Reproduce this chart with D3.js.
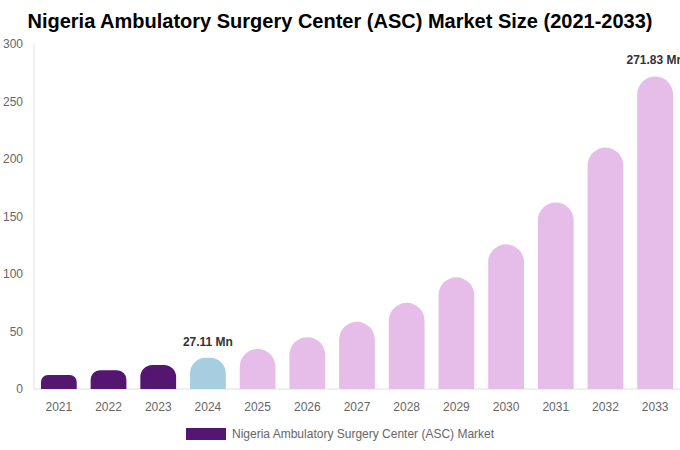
<!DOCTYPE html>
<html>
<head>
<meta charset="utf-8">
<script src="https://cdn.jsdelivr.net/npm/d3@7"></script>
<style>
  body { margin: 0; background: #fff; }
  text { font-family: "Liberation Sans", Arial, sans-serif; }
</style>
</head>
<body>
<svg id="chart"></svg>
<script>
// chart data
const years = ["2021", "2022", "2023", "2024", "2025", "2026", "2027", "2028", "2029", "2030", "2031", "2032", "2033"];
const values = [12.2, 16.2, 20.8, 27.11, 34.8, 45.1, 58.4, 74.9, 97.1, 125.8, 162.2, 209.9, 271.83];
const phases = ["hist", "hist", "hist", "base", "fc", "fc", "fc", "fc", "fc", "fc", "fc", "fc", "fc"];
const labelled = { "2024": "27.11 Mn", "2033": "271.83 Mn" };
const yTicks = [0, 50, 100, 150, 200, 250, 300];
const seriesName = "Nigeria Ambulatory Surgery Center (ASC) Market";

const width = 680, height = 450;
const margin = { top: 44, right: 0, bottom: 61, left: 34 };

let colors = { hist: "#541670", base: "#a6cde0", fc: "#e6bde8" };

let svg = d3.select("#chart")
    .attr("width", width)
    .attr("height", height);

let x = d3.scaleBand()
    .domain(years)
    .range([margin.left, width - margin.right])
    .paddingInner(0.28)
    .paddingOuter(0.14);

let y = d3.scaleLinear()
    .domain([0, 300])
    .range([height - margin.bottom, margin.top]);

// title
svg.append("text")
    .attr("x", width / 2)
    .attr("y", 28)
    .attr("text-anchor", "middle")
    .attr("font-size", "20px")
    .attr("font-weight", "bold")
    .attr("fill", "#000")
    .text("Nigeria Ambulatory Surgery Center (ASC) Market Size (2021-2033)");

// left axis line and tick labels
svg.append("line")
    .attr("x1", margin.left).attr("x2", margin.left)
    .attr("y1", y(300)).attr("y2", y(0))
    .attr("stroke", "#e0e0e0");

svg.selectAll(".ytick")
  .data(yTicks)
  .enter()
  .append("text")
    .attr("x", 23)
    .attr("y", d => y(d) + 4)
    .attr("text-anchor", "end")
    .attr("font-size", "12px")
    .attr("fill", "#666")
    .text(d => d);

// baseline
svg.append("line")
    .attr("x1", margin.left).attr("x2", width)
    .attr("y1", y(0)).attr("y2", y(0))
    .attr("stroke", "#e0e0e0");

// bars with rounded tops (radius shrinks on short bars)
function barPath(d, i) {
  let x0 = x(years[i]), w = x.bandwidth();
  let top = y(d), bottom = y(0);
  let h = bottom - top;
  let r = Math.min(w / 2, h / 2);
  return `M${x0},${bottom} V${top + r} A${r},${r} 0 0 1 ${x0 + r},${top}` +
         ` H${x0 + w - r} A${r},${r} 0 0 1 ${x0 + w},${top + r} V${bottom} Z`;
}

svg.selectAll(".bar")
  .data(values)
  .enter()
  .append("path")
    .classed("bar", true)
    .attr("d", barPath)
    .attr("fill", (d, i) => colors[phases[i]]);

// value labels
svg.selectAll(".vlabel")
  .data(years.filter(yr => labelled[yr]))
  .enter()
  .append("text")
    .attr("x", yr => x(yr) + x.bandwidth() / 2)
    .attr("y", yr => y(values[years.indexOf(yr)]) - 12)
    .attr("text-anchor", "middle")
    .attr("font-size", "12px")
    .attr("font-weight", "bold")
    .attr("fill", "#333")
    .text(yr => labelled[yr]);

// x labels
svg.selectAll(".xlabel")
  .data(years)
  .enter()
  .append("text")
    .attr("x", d => x(d) + x.bandwidth() / 2)
    .attr("y", y(0) + 22)
    .attr("text-anchor", "middle")
    .attr("font-size", "12px")
    .attr("fill", "#666")
    .text(d => d);

// legend
svg.append("rect")
    .attr("x", 186).attr("y", 428)
    .attr("width", 40).attr("height", 12)
    .attr("fill", colors.hist);

svg.append("text")
    .attr("x", 232).attr("y", 438)
    .attr("font-size", "12px")
    .attr("fill", "#666")
    .text(seriesName);
</script>
</body>
</html>
